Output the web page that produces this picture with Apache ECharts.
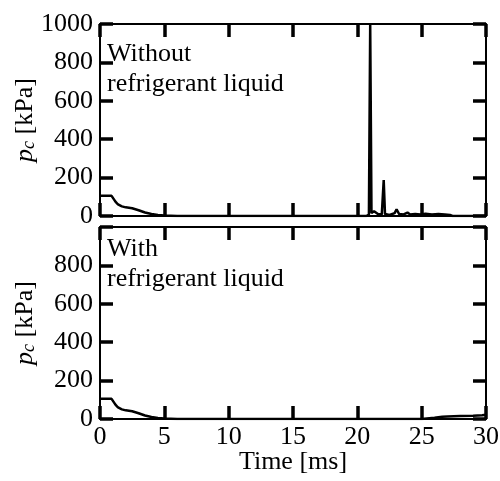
<!DOCTYPE html>
<html>
<head>
<meta charset="utf-8">
<script src="https://cdn.jsdelivr.net/npm/echarts@6/dist/echarts.min.js"></script>
<style>
  html, body { margin: 0; padding: 0; background: #fff; }
  #chart { width: 500px; height: 481px; }
</style>
</head>
<body>
<div id="chart"></div>
<script>
// time [ms] and pressure p_c [kPa]
var timeTop = [0, 0.9, 1.05, 1.2, 1.4, 1.7, 2.0, 2.5, 3.0, 3.5, 4.0, 4.5, 5.0, 6.0, 20.7, 20.9, 21.0, 21.05, 21.1, 21.3, 21.6, 21.9, 22.05, 22.15, 22.5, 22.9, 23.05, 23.25, 23.6, 23.9, 24.1, 24.5, 24.9, 25.3, 25.8, 26.3, 26.8, 27.2, 27.4, 30];
var pTop =    [105, 105, 100, 75, 60, 50, 45, 40, 30, 18, 10, 5, 2, 0, 0, 8, 1000, 1000, 15, 25, 10, 8, 187, 10, 5, 15, 35, 10, 8, 18, 8, 10, 8, 12, 8, 10, 8, 5, 0, 0];

var timeBottom = [0, 0.9, 1.05, 1.2, 1.4, 1.7, 2.0, 2.5, 3.0, 3.5, 4.0, 4.5, 5.0, 6.0, 25.0, 26.0, 26.6, 27.0, 28.0, 29.0, 29.7, 30];
var pBottom =    [105, 105, 100, 75, 60, 50, 45, 40, 30, 18, 10, 5, 2, 0, 0, 7, 12, 13, 15, 17, 20, 22];

var xTicks = [0, 30, 5];      // min, max, interval
var yTicks = [0, 1000, 200];

var font = 'Liberation Serif';

function pairs(xs, ys) {
  var out = [];
  for (var i = 0; i < xs.length; i++) out.push([xs[i], ys[i]]);
  return out;
}

function xAx(grid, pos, labels) {
  return {
    gridIndex: grid, type: 'value', position: pos,
    min: xTicks[0], max: xTicks[1], interval: xTicks[2],
    axisLine: { onZero: false, lineStyle: { color: '#000', width: 2 } },
    axisTick: { inside: true, length: 13, lineStyle: { color: '#000', width: 3.5 } },
    axisLabel: { show: labels, color: '#000', fontFamily: font, fontSize: 26, margin: 5 },
    splitLine: { show: false }
  };
}

function yAx(grid, pos, labels, hideTop) {
  return {
    gridIndex: grid, type: 'value', position: pos,
    min: yTicks[0], max: yTicks[1], interval: yTicks[2],
    axisLine: { onZero: false, lineStyle: { color: '#000', width: 2 } },
    axisTick: { inside: true, length: 13, lineStyle: { color: '#000', width: 3.5 } },
    axisLabel: {
      show: labels, color: '#000', fontFamily: font, fontSize: 26, margin: 7,
      formatter: function (v) { return (hideTop && v === yTicks[1]) ? '' : v; }
    },
    splitLine: { show: false }
  };
}

var yName = {
  name: '{p|p}{c|c}{k| [kPa]}',
  nameLocation: 'middle',
  nameGap: 62,
  nameMoveOverlap: false,
  nameTextStyle: {
    color: '#000', fontFamily: font, fontSize: 26,
    rich: {
      p: { fontFamily: font, fontSize: 26, fontStyle: 'italic', verticalAlign: 'top', lineHeight: 26 },
      c: { fontFamily: font, fontSize: 18, fontStyle: 'italic', verticalAlign: 'bottom', lineHeight: 18, padding: [16, 0, 0, 0] },
      k: { fontFamily: font, fontSize: 26, verticalAlign: 'top', lineHeight: 26 }
    }
  }
};

var yLeftTop = Object.assign(yAx(0, 'left', true, false), yName);
var yLeftBottom = Object.assign(yAx(1, 'left', true, true), yName);
var xBottom = Object.assign(xAx(1, 'bottom', true), {
  name: 'Time [ms]', nameLocation: 'middle', nameGap: 30, nameMoveOverlap: false,
  nameTextStyle: { color: '#000', fontFamily: font, fontSize: 26, verticalAlign: 'top' }
});

var chart = echarts.init(document.getElementById('chart'));
chart.setOption({
  animation: false,
  title: [
    { text: 'Without\nrefrigerant liquid', left: 107, top: 39, padding: 0,
      textStyle: { color: '#000', fontFamily: font, fontSize: 26, fontWeight: 'normal', lineHeight: 30 } },
    { text: 'With\nrefrigerant liquid', left: 107, top: 234, padding: 0,
      textStyle: { color: '#000', fontFamily: font, fontSize: 26, fontWeight: 'normal', lineHeight: 30 } }
  ],
  grid: [
    { left: 100, right: 14, top: 24, height: 192, outerBoundsMode: 'none', containLabel: false },
    { left: 100, right: 14, top: 227, height: 192, outerBoundsMode: 'none', containLabel: false }
  ],
  xAxis: [xAx(0, 'bottom', false), xAx(0, 'top', false), xBottom, xAx(1, 'top', false)],
  yAxis: [yLeftTop, yAx(0, 'right', false, false), yLeftBottom, yAx(1, 'right', false, false)],
  series: [
    { type: 'line', xAxisIndex: 0, yAxisIndex: 0, data: pairs(timeTop, pTop),
      showSymbol: false, lineStyle: { color: '#000', width: 2.5 } },
    { type: 'line', xAxisIndex: 2, yAxisIndex: 2, data: pairs(timeBottom, pBottom),
      showSymbol: false, lineStyle: { color: '#000', width: 2.5 } }
  ]
});
</script>
</body>
</html>
